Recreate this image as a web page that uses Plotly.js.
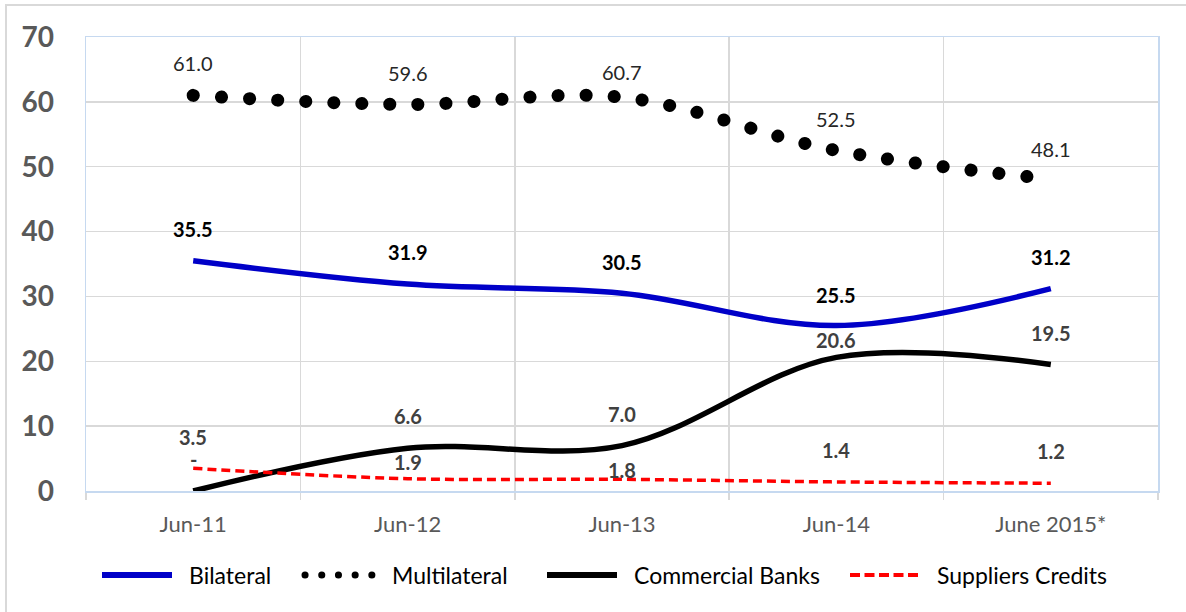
<!DOCTYPE html>
<html>
<head>
<meta charset="utf-8">
<script src="https://cdn.plot.ly/plotly-3.0.1.min.js"></script>
<style>
  html, body { margin: 0; padding: 0; background: #fff; }
  #wrap { position: relative; width: 1186px; height: 612px; overflow: hidden; }
  #chart { width: 1186px; height: 612px; }
  #frame { position: absolute; left: 5px; top: 4px; width: 1200px; height: 640px;
           border: 2px solid #d9d9d9; pointer-events: none; box-sizing: border-box; }
  .tracemulti path.js-line { stroke-linecap: round; }
  .legend .legendlines path.js-line { stroke-dasharray: 70px,1000px !important; stroke-width: 6px !important; }
  .legend2 .legendlines path.js-line {
    stroke-linecap: round; stroke-width: 7px !important;
    stroke-dasharray: 0.1px,16.6px,0.1px,16.6px,0.1px,16.6px,0.1px,16.6px,0.1px,1000px !important;
  }
  .legend3 .legendlines path.js-line { stroke-dasharray: 70px,1000px !important; stroke-width: 6px !important; }
  .legend4 .legendlines path.js-line {
    stroke-width: 4px !important;
    stroke-dasharray: 10px,4.5px,10px,4.5px,10px,4.5px,10px,4.5px,10px,1000px !important;
  }
</style>
</head>
<body>
<div id="wrap">
  <div id="chart"></div>
  <div id="frame"></div>
</div>
<script>
// ---- data ----
var categories = ["Jun-11", "Jun-12", "Jun-13", "Jun-14", "June 2015*"];
var bilateral = [35.5, 31.9, 30.5, 25.5, 31.2];
var multilateral = [61.0, 59.6, 60.7, 52.5, 48.1];
var commercialBanks = [0, 6.6, 7.0, 20.6, 19.5];
var suppliersCredits = [3.5, 1.9, 1.8, 1.4, 1.2];

// ---- label offsets (px above the point) ----
var shiftBilateral = [32, 32, 31, 31, 32];
var shiftMultilateral = [32, 31, 25, 32, 30];
var shiftCommercial = [32, 32, 32, 17, 32];
var shiftSuppliers = [31, 17, 9, 32, 32];

var xs = categories.map(function (c, i) { return i; });
var FONT = "Lato, 'Open Sans', sans-serif";

function fmt(v) { return v === 0 ? "-" : v.toFixed(1); }

var traces = [
  { name: "Bilateral", legend: "legend", x: xs, y: bilateral, type: "scatter", mode: "lines",
    line: { color: "#0000c8", width: 5.5, shape: "spline", smoothing: 1 }, cliponaxis: false },
  { name: "Multilateral", legend: "legend2", uid: "multi", x: xs, y: multilateral, type: "scatter", mode: "lines",
    line: { color: "#000000", width: 13, shape: "spline", smoothing: 1, dash: "0.1px,28px" }, cliponaxis: false },
  { name: "Commercial Banks", legend: "legend3", x: xs, y: commercialBanks, type: "scatter", mode: "lines",
    line: { color: "#000000", width: 5.5, shape: "spline", smoothing: 1 }, cliponaxis: false },
  { name: "Suppliers Credits", legend: "legend4", x: xs, y: suppliersCredits, type: "scatter", mode: "lines",
    line: { color: "#ff0000", width: 3.5, shape: "spline", smoothing: 1, dash: "9px,5px" }, cliponaxis: false }
];

var annotations = [];
function addLabels(vals, shifts, font) {
  vals.forEach(function (v, i) {
    annotations.push({ x: xs[i], y: v, xref: "x", yref: "y", text: fmt(v), showarrow: false,
      yshift: shifts[i], xanchor: "center", yanchor: "middle", font: font });
  });
}
addLabels(bilateral, shiftBilateral, { family: FONT, size: 20, color: "#000000", weight: "bold" });
addLabels(multilateral, shiftMultilateral, { family: FONT, size: 20, color: "#262626", weight: "normal" });
addLabels(commercialBanks, shiftCommercial, { family: FONT, size: 20, color: "#404040", weight: "bold" });
addLabels(suppliersCredits, shiftSuppliers, { family: FONT, size: 20, color: "#404040", weight: "bold" });

function legendAt(xpx) {
  return { orientation: "h", x: (xpx - 86) / 1072, xanchor: "left", y: -0.185, yanchor: "middle",
           font: { family: FONT, size: 23, color: "#000000", weight: "normal" },
           itemwidth: 82, bgcolor: "rgba(0,0,0,0)", borderwidth: 0 };
}

var layout = {
  width: 1186, height: 612,
  margin: { l: 86, r: 28, t: 37, b: 121 },
  paper_bgcolor: "#ffffff", plot_bgcolor: "#ffffff",
  showlegend: true,
  hovermode: false,
  xaxis: {
    type: "linear", range: [-0.5, 4.5],
    tickmode: "array", tickvals: xs, ticktext: categories,
    ticks: "", showgrid: false, zeroline: false,
    showline: true, linecolor: "#c6d9f0", linewidth: 1.5, mirror: true,
    tickfont: { family: FONT, size: 22, color: "#595959", weight: "normal" },
    ticklabelstandoff: 13,
    minor: { tickmode: "linear", tick0: -0.5, dtick: 1, showgrid: true,
             gridcolor: "#d9d9d9", gridwidth: 1.5, ticks: "outside", ticklen: 7,
             tickcolor: "#d9d9d9", tickwidth: 1.5 }
  },
  yaxis: {
    range: [0, 70], tickmode: "linear", tick0: 0, dtick: 10,
    showgrid: true, gridcolor: "#d9d9d9", gridwidth: 1.5, zeroline: false,
    showline: true, linecolor: "#c6d9f0", linewidth: 1.5, mirror: true,
    ticks: "", ticklabelstandoff: 25,
    tickfont: { family: FONT, size: 28, color: "#595959", weight: "bold" }
  },
  legend: legendAt(97),
  legend2: legendAt(300),
  legend3: legendAt(542),
  legend4: legendAt(845),
  annotations: annotations
};

Plotly.newPlot("chart", traces, layout, { displayModeBar: false, staticPlot: true });
</script>
</body>
</html>
